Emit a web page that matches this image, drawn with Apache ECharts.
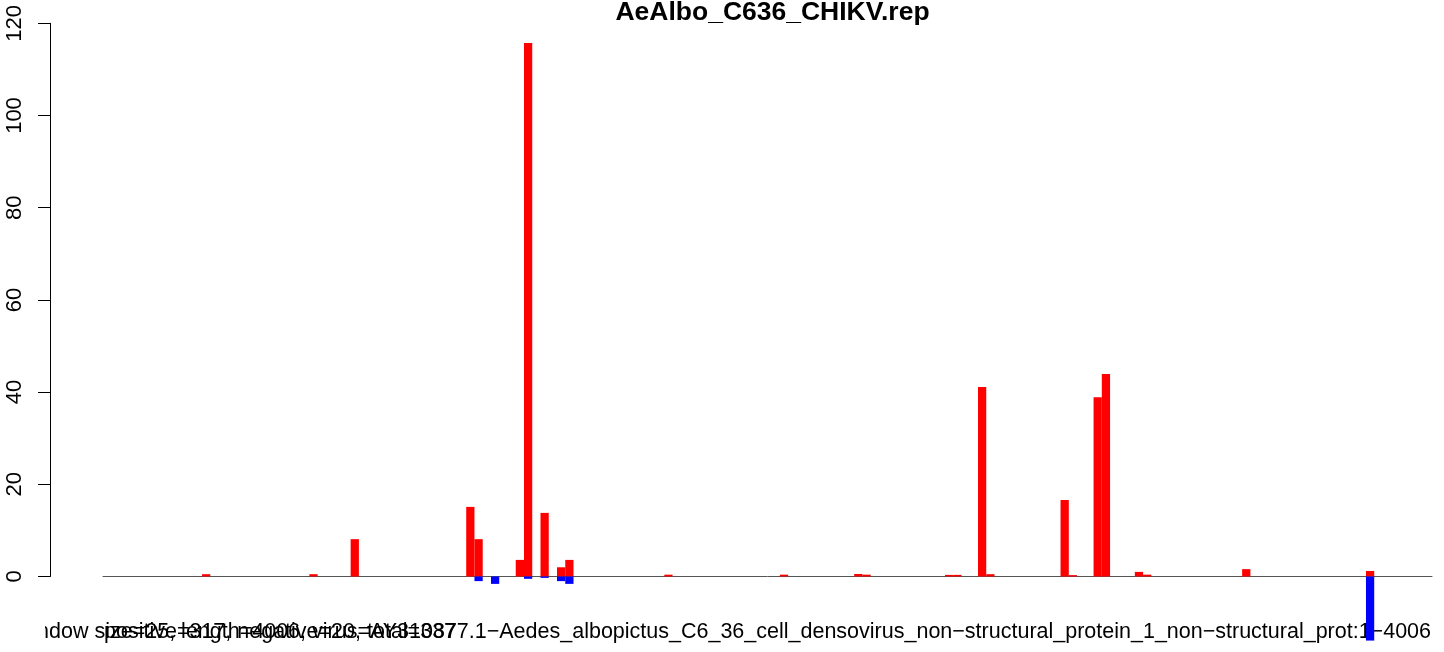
<!DOCTYPE html>
<html>
<head>
<meta charset="utf-8">
<script src="https://cdn.jsdelivr.net/npm/echarts@6/dist/echarts.min.js"></script>
<style>
  html, body { margin: 0; padding: 0; background: #fff; }
  #repChart { width: 1444px; height: 652px; }
</style>
</head>
<body>
<div id="repChart"></div>
<script>
  // 25 bp windows over a 4006 bp sequence
  var windowSize = 25;
  var seqLength = 4006;
  var nWindows = 161;

  // positive strand counts (window index, value)
  var posIdx = [12, 25, 30, 44, 45, 50, 51, 53, 55, 56, 68, 82, 91, 92, 102, 103, 106, 107, 116, 117, 120, 121, 125, 126, 138, 153];
  var posVal = [0.5, 0.5, 8.1, 15.1, 8.1, 3.6, 115.7, 13.8, 2.0, 3.6, 0.4, 0.4, 0.55, 0.4, 0.35, 0.35, 41.1, 0.5, 16.6, 0.3, 38.9, 43.9, 1.0, 0.4, 1.6, 1.2];

  // negative strand counts (window index, value)
  var negIdx = [45, 47, 51, 53, 55, 56, 153];
  var negVal = [-1.0, -1.6, -0.5, -0.3, -1.0, -1.6, -13.9];

  var yTicks = [0, 20, 40, 60, 80, 100, 120];

  var titleText = 'AeAlbo_C636_CHIKV.rep';
  var xlabText = 'window size=25, length=4006, virus=AY310877.1\u2212Aedes_albopictus_C6_36_cell_densovirus_non\u2212structural_protein_1_non\u2212structural_prot:1\u22124006';
  var countText = 'positive=317, negative=20, total=337';

  var categories = [];
  var posData = [];
  var negData = [];
  for (var i = 0; i < nWindows; i++) {
    categories.push(String(i * windowSize + 1));
    posData.push('-');
    negData.push('-');
  }
  posIdx.forEach(function (k, j) { posData[k] = posVal[j]; });
  negIdx.forEach(function (k, j) { negData[k] = negVal[j]; });

  var font = '"Liberation Sans", Arial, Helvetica, sans-serif';
  var myChart = echarts.init(document.getElementById('repChart'), null, {renderer: 'canvas'});
  var option = {
    backgroundColor: '#ffffff',
    animation: false,
    title: {
      text: titleText,
      left: 767.5,
      textAlign: 'center',
      top: -6,
      textStyle: {fontFamily: font, fontSize: 26.5, fontWeight: 'bold', color: '#000'}
    },
    grid: {
      left: 103,
      right: 12,
      top: 23.3,
      bottom: 75.5
    },
    xAxis: {
      type: 'category',
      data: categories,
      axisTick: {show: false},
      axisLabel: {show: false},
      axisLine: {lineStyle: {color: '#555', width: 1}},
      splitLine: {show: false}
    },
    yAxis: {
      type: 'value',
      min: yTicks[0],
      max: yTicks[yTicks.length - 1],
      interval: 20,
      offset: 53,
      axisLine: {show: true, lineStyle: {color: '#000', width: 1}},
      axisTick: {show: true, length: 12, lineStyle: {color: '#000', width: 1}},
      axisLabel: {rotate: 90, margin: 24, fontFamily: font, fontSize: 22, color: '#000'},
      splitLine: {show: false}
    },
    graphic: [
      {type: 'text', z: 0, style: {x: 1431, y: 632, text: xlabText, align: 'right', verticalAlign: 'middle', font: '21.5px ' + font, fill: '#000'}},
      {type: 'text', z: 0, style: {x: 104, y: 632, text: countText, align: 'left', verticalAlign: 'middle', font: '21.5px ' + font, fill: '#000'}},
      {type: 'rect', z: 1, shape: {x: 0, y: 605, width: 45, height: 47}, style: {fill: '#fff'}}
    ],
    series: [
      {
        name: 'positive',
        type: 'bar',
        data: posData,
        barWidth: '100%',
        barGap: '-100%',
        clip: false,
        z: 5,
        itemStyle: {color: '#ff0000'}
      },
      {
        name: 'negative',
        type: 'bar',
        data: negData,
        barWidth: '100%',
        barGap: '-100%',
        clip: false,
        z: 5,
        itemStyle: {color: '#0000ff'}
      }
    ]
  };
  myChart.setOption(option, true);
</script>
</body>
</html>
